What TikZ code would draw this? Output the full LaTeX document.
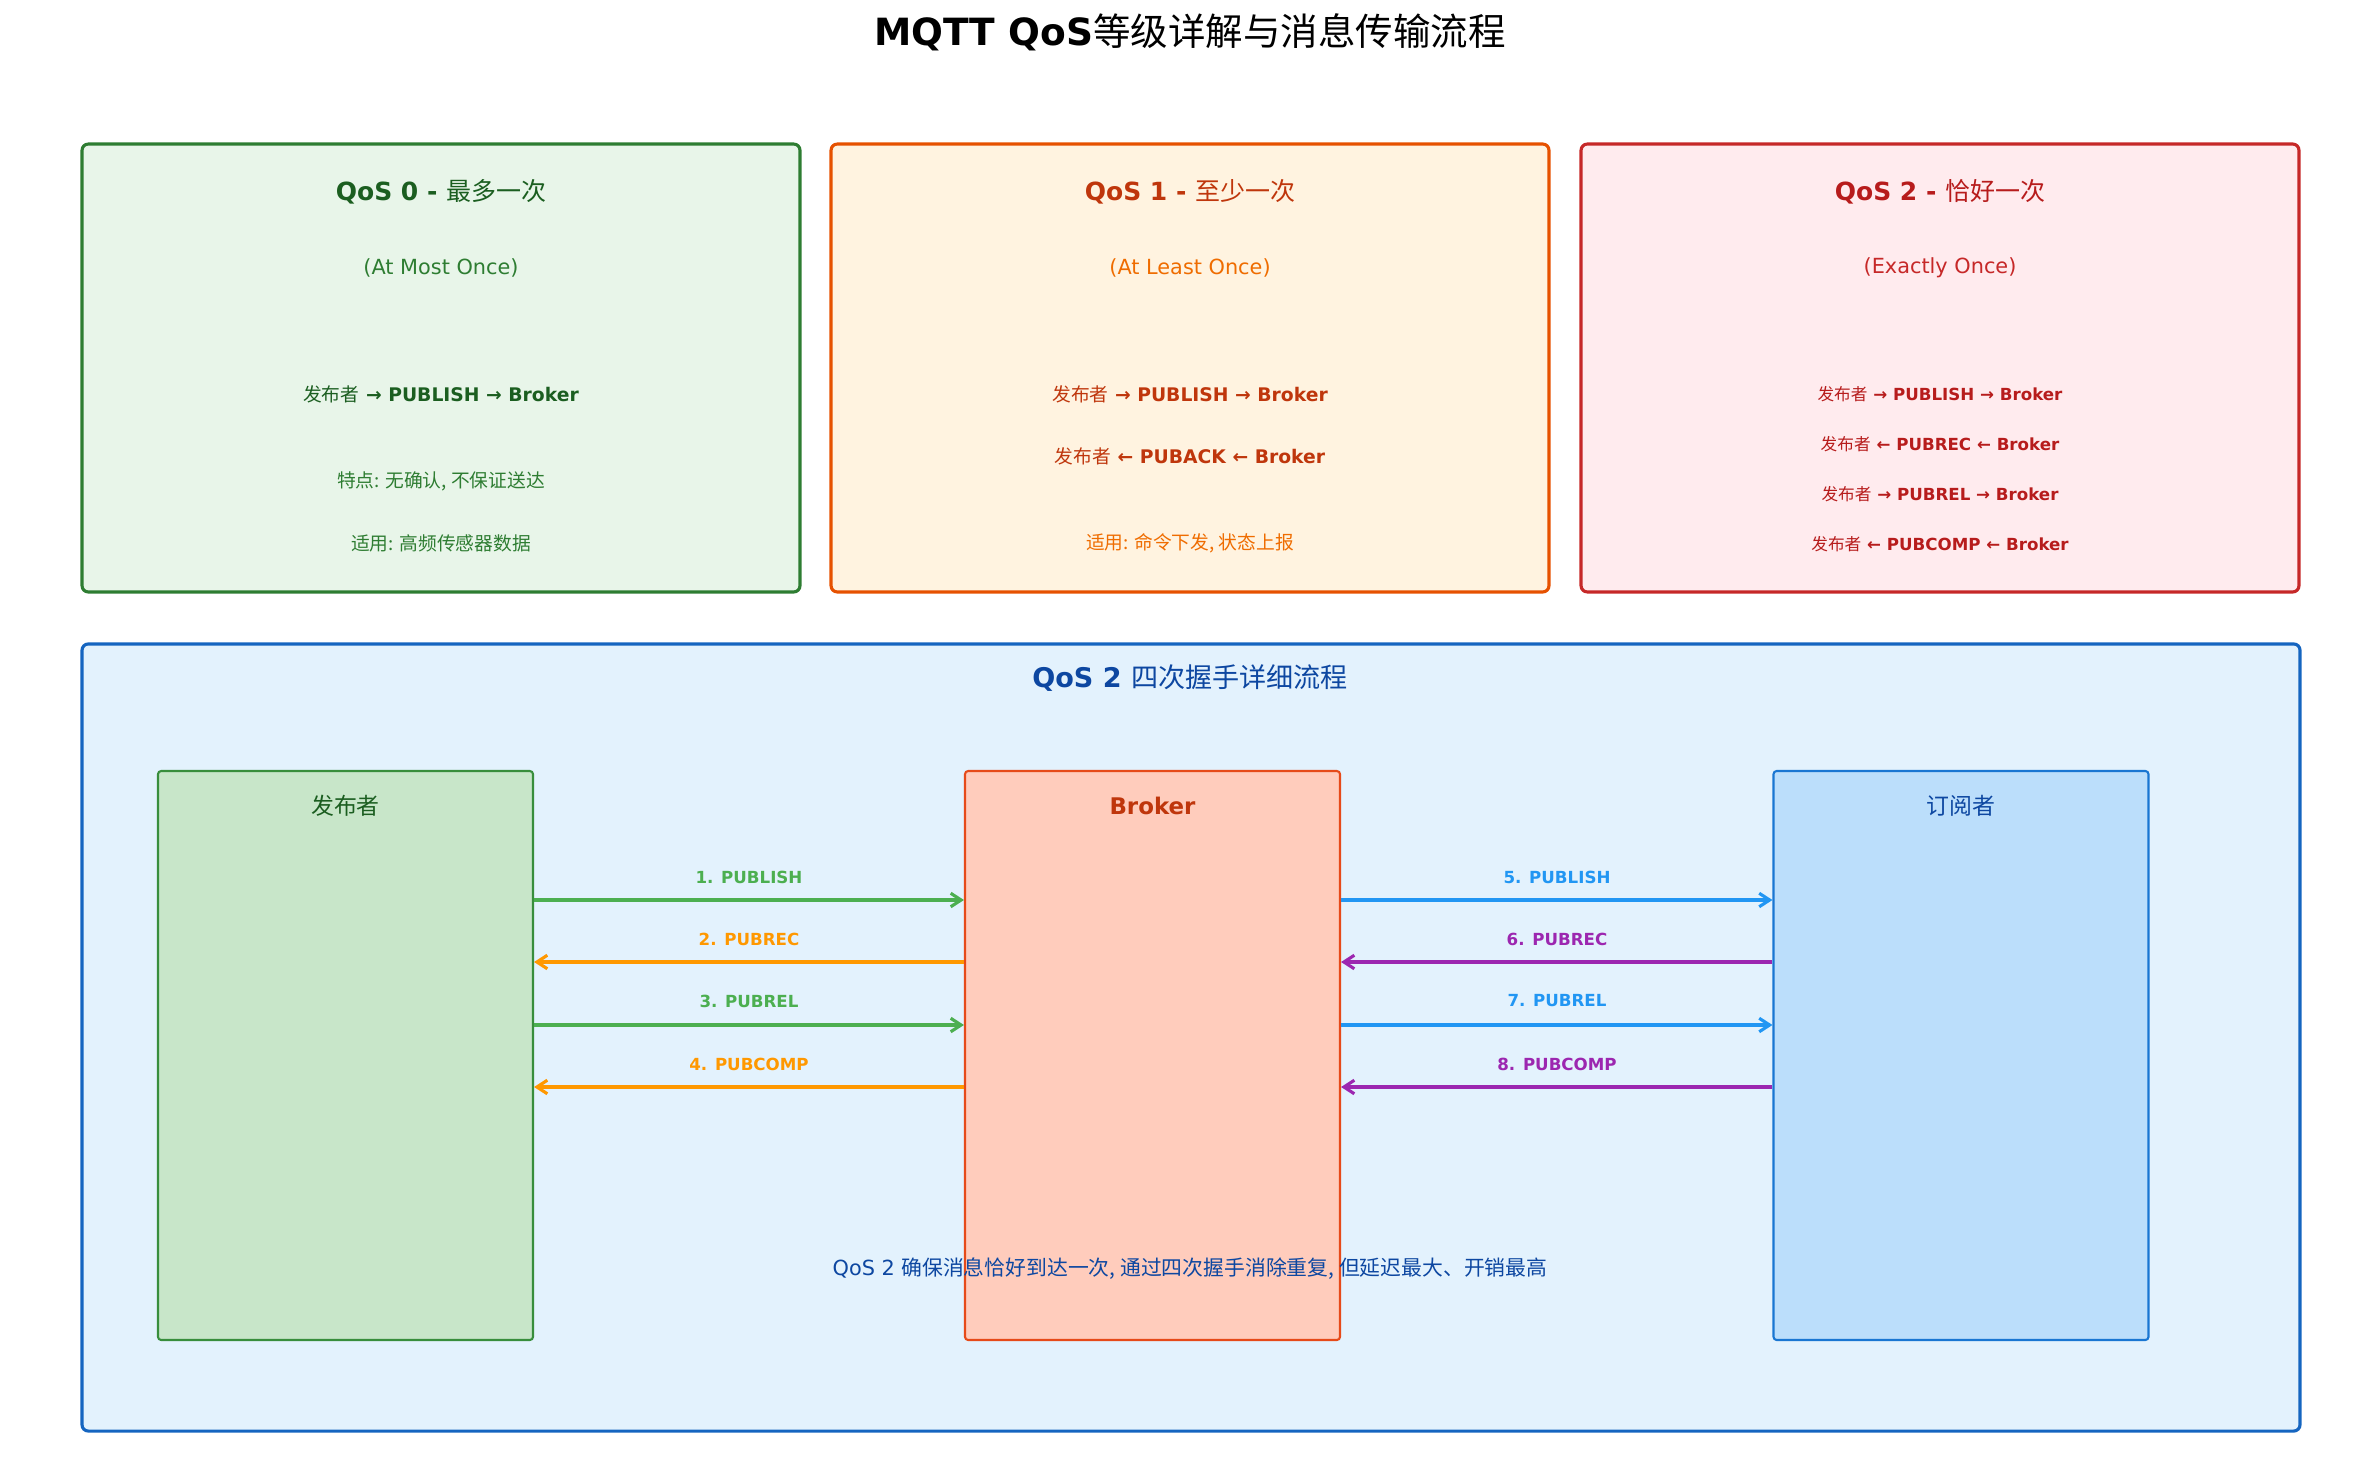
\documentclass[tikz,border=0pt]{standalone}
\usepackage{fontspec}
\setmainfont{DejaVu Sans}
\newfontfamily\cjk{Noto Sans CJK SC}
\usetikzlibrary{positioning,arrows.meta,calc}
\newcommand{\zh}[1]{{\cjk\mdseries #1}}
\newcommand{\fsz}[1]{\fontsize{#1}{#1}\selectfont}

\definecolor{gfill}{HTML}{E8F5E9}
\definecolor{gdraw}{HTML}{2E7D32}
\definecolor{gdark}{HTML}{1B5E20}
\definecolor{ofill}{HTML}{FFF3E0}
\definecolor{odraw}{HTML}{E65100}
\definecolor{odark}{HTML}{BF360C}
\definecolor{olite}{HTML}{EF6C00}
\definecolor{rfill}{HTML}{FFEBEE}
\definecolor{rdraw}{HTML}{C62828}
\definecolor{rdark}{HTML}{B71C1C}
\definecolor{bfill}{HTML}{E3F2FD}
\definecolor{bdraw}{HTML}{1565C0}
\definecolor{bdark}{HTML}{0D47A1}
\definecolor{pubfill}{HTML}{C8E6C9}
\definecolor{pubdraw}{HTML}{388E3C}
\definecolor{brkfill}{HTML}{FFCCBC}
\definecolor{brkdraw}{HTML}{E64A19}
\definecolor{subfill}{HTML}{BBDEFB}
\definecolor{subdraw}{HTML}{1976D2}
\definecolor{agreen}{HTML}{4CAF50}
\definecolor{aorange}{HTML}{FF9800}
\definecolor{ablue}{HTML}{2196F3}
\definecolor{apurple}{HTML}{9C27B0}

\begin{document}
\begin{tikzpicture}[
    x=0.48pt, y=-0.48pt,
    panel/.style={draw, rounded corners=3pt, line width=1.5pt, minimum width=344.6pt, minimum height=215pt, inner sep=0pt},
    actor/.style={draw, rounded corners=1.5pt, line width=1pt, minimum width=180pt, minimum height=273.1pt, inner sep=0pt},
    ptitle/.style={font=\fsz{12}\bfseries},
    psub/.style={font=\fsz{10}},
    pline/.style={font=\fsz{9}\bfseries},
    pnote/.style={font=\fsz{9}},
    qline/.style={font=\fsz{8}\bfseries},
    hdr/.style={font=\fsz{11}},
    lbl/.style={font=\fsz{8}\bfseries},
    arr/.style={-{Straight Barb[length=5pt, width=6.5pt]}, line width=1.5pt},
]
\useasboundingbox (0,0) rectangle (2380,1479);

% === Title ===
\node[font=\fsz{18}\bfseries] (title) at (1190,32) {MQTT QoS\zh{等级详解与消息传输流程}};

% === QoS panels (top) ===
\node[panel, draw=gdraw, fill=gfill] (p0) at (441,368) {};
\node[panel, draw=odraw, fill=ofill] (p1) at (1190,368) {};
\node[panel, draw=rdraw, fill=rfill] (p2) at (1940,368) {};

% QoS 0
\node[ptitle, gdark] (p0t) at (441,192) {QoS 0 - \zh{最多一次}};
\node[psub, gdraw] (p0s) at (441,268) {(At Most Once)};
\node[pline, gdark] (p0a) at (441,394) {\zh{发布者} → PUBLISH → Broker};
\node[pnote, gdraw] (p0b) at (441,481) {\zh{特点: 无确认, 不保证送达}};
\node[pnote, gdraw] (p0c) at (441,543) {\zh{适用: 高频传感器数据}};

% QoS 1
\node[ptitle, odark] (p1t) at (1190,192) {QoS 1 - \zh{至少一次}};
\node[psub, olite] (p1s) at (1190,268) {(At Least Once)};
\node[pline, odark] (p1a) at (1190,394) {\zh{发布者} → PUBLISH → Broker};
\node[pline, odark] (p1b) at (1190,456) {\zh{发布者} ← PUBACK ← Broker};
\node[pnote, olite] (p1c) at (1190,543) {\zh{适用: 命令下发, 状态上报}};

% QoS 2
\node[ptitle, rdark] (p2t) at (1940,192) {QoS 2 - \zh{恰好一次}};
\node[psub, rdraw] (p2s) at (1940,268) {(Exactly Once)};
\node[qline, rdark] (p2a) at (1940,394) {\zh{发布者} → PUBLISH → Broker};
\node[qline, rdark] (p2b) at (1940,444) {\zh{发布者} ← PUBREC ← Broker};
\node[qline, rdark] (p2c) at (1940,494) {\zh{发布者} → PUBREL → Broker};
\node[qline, rdark] (p2d) at (1940,544) {\zh{发布者} ← PUBCOMP ← Broker};

% === Four-way handshake (bottom) ===
\node[draw=bdraw, fill=bfill, rounded corners=3pt, line width=1.5pt, minimum width=1064.6pt, minimum height=377.8pt, inner sep=0pt] (flow) at (1191,1037.5) {};
\node[font=\fsz{13}\bfseries, bdark] (flowt) at (1190,678) {QoS 2 \zh{四次握手详细流程}};

\node[actor, draw=pubdraw, fill=pubfill] (pub) at (345.5,1055.5) {};
\node[actor, draw=brkdraw, fill=brkfill] (brk) at (1152.5,1055.5) {};
\node[actor, draw=subdraw, fill=subfill] (sub) at (1961,1055.5) {};
\node[hdr, gdark] (pubh) at (345.5,806) {\zh{发布者}};
\node[hdr, odark, font=\fsz{11}\bfseries] (brkh) at (1152.5,806) {Broker};
\node[hdr, bdark] (subh) at (1961,806) {\zh{订阅者}};

% message rows
\coordinate (r1) at (0,900);
\coordinate (r2) at (0,962);
\coordinate (r3) at (0,1025);
\coordinate (r4) at (0,1087);

\node[lbl, agreen] (m1) at (749,877) {1. PUBLISH};
\node[lbl, aorange] (m2) at (749,939) {2. PUBREC};
\node[lbl, agreen] (m3) at (749,1001) {3. PUBREL};
\node[lbl, aorange] (m4) at (749,1064) {4. PUBCOMP};
\node[lbl, ablue] (m5) at (1557,877) {5. PUBLISH};
\node[lbl, apurple] (m6) at (1557,939) {6. PUBREC};
\node[lbl, ablue] (m7) at (1557,1001) {7. PUBREL};
\node[lbl, apurple] (m8) at (1557,1064) {8. PUBCOMP};

\draw[arr, agreen] (pub.east |- r1) -- (brk.west |- r1);
\draw[arr, aorange] (brk.west |- r2) -- (pub.east |- r2);
\draw[arr, agreen] (pub.east |- r3) -- (brk.west |- r3);
\draw[arr, aorange] (brk.west |- r4) -- (pub.east |- r4);
\draw[arr, ablue] (brk.east |- r1) -- (sub.west |- r1);
\draw[arr, apurple] (sub.west |- r2) -- (brk.east |- r2);
\draw[arr, ablue] (brk.east |- r3) -- (sub.west |- r3);
\draw[arr, apurple] (sub.west |- r4) -- (brk.east |- r4);

\node[font=\fsz{10}, bdark] (note) at (1190,1269) {QoS 2 \zh{确保消息恰好到达一次, 通过四次握手消除重复, 但延迟最大、开销最高}};

\end{tikzpicture}
\end{document}
